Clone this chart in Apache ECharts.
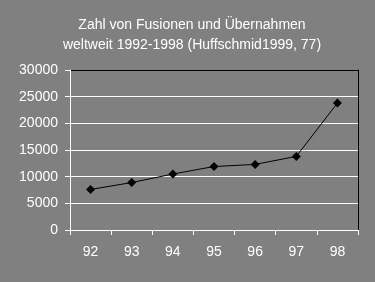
<!DOCTYPE html>
<html><head><meta charset="utf-8">
<script src="https://cdn.jsdelivr.net/npm/echarts@6/dist/echarts.min.js"></script>
<style>html,body{margin:0;padding:0;background:#808080}#c{width:375px;height:282px}</style>
</head><body><div id="c"></div>
<script>
const categories = ['92','93','94','95','96','97','98'];
const values = [7600, 8900, 10500, 11900, 12300, 13800, 23800];
const titleLines = ['Zahl von Fusionen und Übernahmen', 'weltweit 1992-1998 (Huffschmid1999, 77)'];

const chart = echarts.init(document.getElementById('c'), null, {renderer:'canvas'});
const font = 'Liberation Sans, Arial, sans-serif';
chart.setOption({
  backgroundColor: '#808080',
  animation: false,
  title: {
    text: titleLines.join('\n'),
    left: 187, top: 10, textAlign: 'center',
    textStyle: {color:'#fff', fontFamily: font, fontSize: 14, fontWeight: 'normal', lineHeight: 20}
  },
  grid: {left: 70, top: 70, right: 17, bottom: 52, containLabel: false},
  xAxis: {
    type: 'category', data: categories, boundaryGap: true,
    axisLine: {lineStyle: {color:'#fff', width:1}},
    axisTick: {show:true, length:5, lineStyle:{color:'#fff'}},
    axisLabel: {color:'#fff', fontFamily: font, fontSize: 14, margin: 15}
  },
  yAxis: [{
    type: 'value', min: 0, max: 30000, interval: 5000,
    axisLine: {show:true, lineStyle:{color:'#fff', width:1}},
    axisTick: {show:true, length:5, lineStyle:{color:'#fff'}},
    axisLabel: {color:'#fff', fontFamily: font, fontSize: 14, margin: 12, formatter: v => String(v)},
    splitLine: {show:true, lineStyle:{color:['#fff','#fff','#fff','#fff','#fff','#fff','#000'], width:1}}
  },{
    type: 'value', min: 0, max: 30000, interval: 5000, position: 'right',
    axisLine: {show:true, lineStyle:{color:'#000', width:1}},
    axisTick: {show:false}, axisLabel: {show:false}, splitLine: {show:false}
  }],
  series: [{
    type: 'line', data: values, yAxisIndex: 0,
    symbol: 'diamond', symbolSize: 9,
    itemStyle: {color:'#000'},
    lineStyle: {color:'#000', width:1}
  }]
});
</script></body></html>
